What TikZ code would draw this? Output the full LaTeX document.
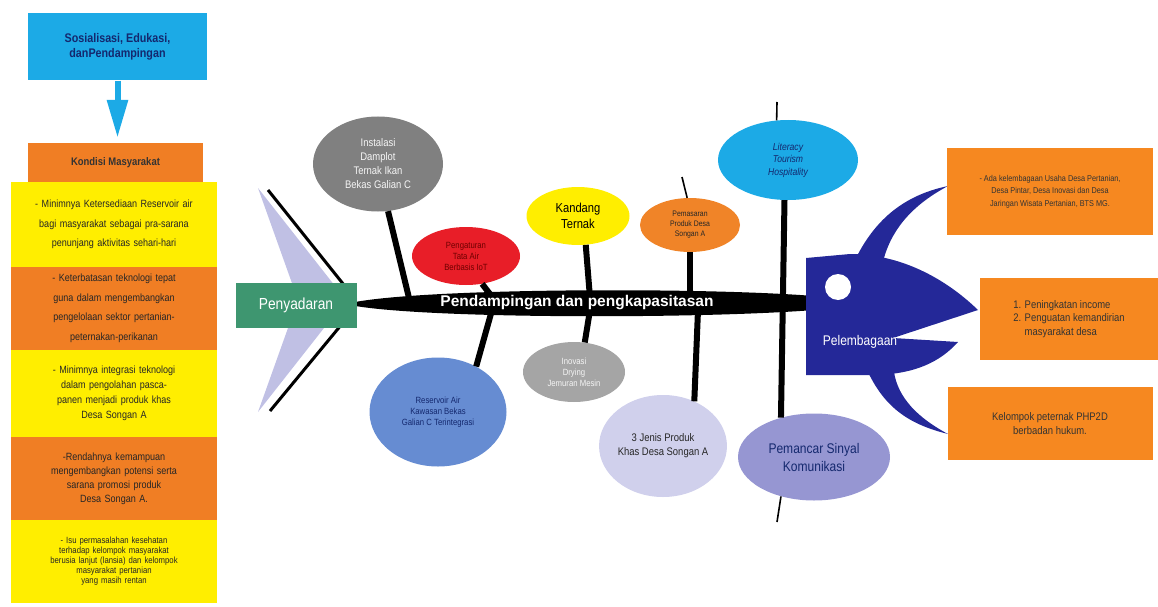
\documentclass[tikz,border=0pt]{standalone}
\usepackage{fontspec}
\setmainfont{Liberation Sans}
\newfontfamily\narrowsans[FakeStretch=0.86]{Liberation Sans}
\usetikzlibrary{shapes.geometric,arrows.meta}

\definecolor{skyblue}{RGB}{28,170,230}
\definecolor{boxorange}{RGB}{240,126,36}
\definecolor{rightorange}{RGB}{246,136,32}
\definecolor{boxyellow}{RGB}{255,238,0}
\definecolor{pgreen}{RGB}{62,150,112}
\definecolor{taillav}{RGB}{192,192,228}
\definecolor{fishblue}{RGB}{36,40,152}
\definecolor{navytext}{RGB}{20,40,110}
\definecolor{bgray}{RGB}{128,128,128}
\definecolor{lgray}{RGB}{165,165,165}
\definecolor{bred}{RGB}{232,30,40}
\definecolor{darkred}{RGB}{110,0,0}
\definecolor{borange}{RGB}{240,132,40}
\definecolor{resblue}{RGB}{102,140,210}
\definecolor{palelav}{RGB}{208,208,236}
\definecolor{midlav}{RGB}{150,150,210}

\begin{document}
\begin{tikzpicture}[x=1pt,y=-1pt,
  colbox/.style={rectangle, inner sep=0pt, minimum width=206pt, text width=198pt,
    align=center, text=black!85, font=\narrowsans\fontsize{10.5}{19.5}\selectfont},
  bubble/.style={ellipse, inner sep=0pt, align=center},
  bone/.style={line width=6pt, black},
  stick/.style={line width=1.6pt, black},
  tailline/.style={line width=3pt, black},
  sidebox/.style={rectangle, fill=rightorange, inner sep=0pt, text=black!80}
]
\useasboundingbox (0,0) rectangle (1158,607);

% ---------- left column: problems ----------
\node[rectangle, fill=skyblue, minimum width=179pt, minimum height=67pt, inner sep=0pt,
  align=center, text=navytext, font=\narrowsans\bfseries\fontsize{12.5}{15}\selectfont]
  (sos) at (117.5,47) {Sosialisasi, Edukasi,\\ danPendampingan};
\node[rectangle, fill=boxorange, minimum width=175pt, minimum height=39pt, inner sep=0pt,
  text=black!80, font=\narrowsans\bfseries\fontsize{11}{13}\selectfont]
  (kond) at (115.5,162.5) {Kondisi Masyarakat};
\draw[skyblue, line width=6pt, -{Triangle[width=20pt,length=38pt]}, shorten >=5pt]
  (sos.south) -- (sos.south |- kond.north);

\node[colbox, fill=boxyellow, minimum height=85pt] (c1) at (114,224.5)
  {- Minimnya Ketersediaan Reservoir air\\ bagi masyarakat sebagai pra-sarana\\ penunjang aktivitas sehari-hari};
\node[colbox, fill=boxorange, minimum height=83pt] (c2) at (114,308.5)
  {- Keterbatasan teknologi tepat\\ guna dalam mengembangkan\\ pengelolaan sektor pertanian-\\ peternakan-perikanan};
\node[colbox, fill=boxyellow, minimum height=87pt, font=\narrowsans\fontsize{10.5}{15}\selectfont] (c3) at (114,393.5)
  {- Minimnya integrasi teknologi\\ dalam pengolahan pasca-\\ panen menjadi produk khas\\ Desa Songan A};
\node[colbox, fill=boxorange, minimum height=83pt, font=\narrowsans\fontsize{10.5}{14}\selectfont] (c4) at (114,478.5)
  {-Rendahnya kemampuan\\ mengembangkan potensi serta\\ sarana promosi produk\\ Desa Songan A.};
\node[colbox, fill=boxyellow, minimum height=83pt, font=\narrowsans\fontsize{9}{10}\selectfont] (c5) at (114,561.5)
  {- Isu permasalahan kesehatan\\ terhadap kelompok masyarakat\\ berusia lanjut (lansia) dan kelompok\\ masyarakat pertanian\\ yang masih rentan};

% ---------- tail ----------
\fill[taillav] (258,188) -- (346,300) -- (258,412) -- (298,300) -- cycle;
\coordinate (tt) at (268,190);
\coordinate (tb) at (270,411);
\coordinate (sl) at (356,300);
\coordinate (sl2) at (356,307);
\draw[tailline] (tt) -- (sl);
\draw[tailline] (sl2) -- (tb);

% ---------- spine points ----------
\coordinate (s1) at (409,298);
\coordinate (s2) at (493,298);
\coordinate (s3) at (590,298);
\coordinate (s4) at (690,298);
\coordinate (u2) at (492,310);
\coordinate (u3) at (590,310);
\coordinate (u4) at (698,310);

% ---------- bubbles ----------
\node[bubble, fill=bgray, minimum width=130pt, minimum height=95pt, text=white!92!gray,
  font=\narrowsans\fontsize{11}{14}\selectfont] (inst) at (378,164)
  {Instalasi\\ Damplot\\ Ternak Ikan\\ Bekas Galian C};
\node[bubble, fill=bred, minimum width=108pt, minimum height=58pt, text=darkred,
  font=\narrowsans\fontsize{9}{11}\selectfont] (iot) at (466,256)
  {Pengaturan\\ Tata Air\\ Berbasis IoT};
\node[bubble, fill=boxyellow, minimum width=103pt, minimum height=58pt, text=black,
  font=\narrowsans\fontsize{13}{16}\selectfont] (kand) at (578,216)
  {Kandang\\ Ternak};
\node[bubble, fill=borange, minimum width=100pt, minimum height=54pt, text=black!85,
  font=\narrowsans\fontsize{8}{10}\selectfont] (pems) at (690,225)
  {Pemasaran\\ Produk Desa\\ Songan A};
\node[bubble, fill=skyblue, minimum width=140pt, minimum height=80pt, text=navytext,
  font=\narrowsans\itshape\fontsize{10}{12.5}\selectfont] (lit) at (788,160)
  {Literacy\\ Tourism\\ Hospitality};
\node[bubble, fill=resblue, minimum width=137pt, minimum height=109pt, text=navytext,
  font=\narrowsans\fontsize{9}{11}\selectfont] (res) at (438,412)
  {Reservoir Air\\ Kawasan Bekas\\ Galian C Terintegrasi};
\node[bubble, fill=lgray, minimum width=102pt, minimum height=60pt, text=white!92!gray,
  font=\narrowsans\fontsize{9}{11}\selectfont] (ino) at (574,372)
  {Inovasi\\ Drying\\ Jemuran Mesin};
\node[bubble, fill=palelav, minimum width=120pt, minimum height=102pt, text=black!85,
  font=\narrowsans\fontsize{11}{14}\selectfont] (jen) at (663,446)
  {3 Jenis Produk\\ Khas Desa Songan A};
\node[bubble, fill=midlav, minimum width=152pt, minimum height=87pt, text=navytext,
  font=\narrowsans\fontsize{14}{18}\selectfont] (pemc) at (814,457)
  {Pemancar Sinyal\\ Komunikasi};

% ---------- bones ----------
\draw[bone] (inst.-78) -- (s1);
\draw[bone] (iot.-60) -- (s2);
\draw[bone] (kand.-75) -- (s3);
\draw[bone] (pems.south) -- (s4);
\draw[bone] (u2) -- (res.50);
\draw[bone] (u3) -- (ino.70);
\draw[bone] (u4) -- (jen.55);
\draw[bone] (lit.-95) -- (pemc.130);
\coordinate (pst) at (682,177);
\coordinate (lst) at (777,102);
\coordinate (mst) at (777,522);
\draw[stick] (pems.96) -- (pst);
\draw[stick] (lit.106) -- (lst);
\draw[stick] (pemc.-130) -- (mst);

% ---------- spine ----------
\fill[black] (350,303) .. controls (420,288) and (700,287) .. (814,296)
  -- (814,310) .. controls (700,319) and (420,319) .. (350,305) -- cycle;
\node[text=white, font=\bfseries\fontsize{15.5}{17}\selectfont] (spt) at (577,303)
  {Pendampingan dan pengkapasitasan};

% ---------- Penyadaran ----------
\node[rectangle, fill=pgreen, minimum width=121pt, minimum height=45pt, inner sep=0pt,
  text=white, font=\narrowsans\fontsize{16}{18}\selectfont] (peny) at (296,305) {Penyadaran};

% ---------- fish head ----------
\fill[fishblue] (806,258) -- (850,254) .. controls (900,254) and (945,278) .. (978,310)
  -- (893,338) -- (958,342) .. controls (940,362) and (915,374) .. (875,375)
  -- (806,375) -- cycle;
\fill[fishblue] (856,258) .. controls (878,214) and (910,194) .. (948,186)
  .. controls (916,203) and (893,226) .. (884,258) -- cycle;
\fill[fishblue] (868,372) .. controls (886,410) and (912,425) .. (948,434)
  .. controls (918,418) and (898,398) .. (894,372) -- cycle;
\fill[white] (838,287) circle (13);
\node[text=white, font=\narrowsans\fontsize{14}{16}\selectfont] (pel) at (860,342) {Pelembagaan};

% ---------- outcomes ----------
\node[sidebox, minimum width=206pt, minimum height=87pt, align=center,
  font=\narrowsans\fontsize{8.5}{12.5}\selectfont] (outA) at (1050,191.5)
  {- Ada kelembagaan Usaha Desa Pertanian,\\ Desa Pintar, Desa Inovasi dan Desa\\ Jaringan Wisata Pertanian, BTS MG.};
\node[sidebox, minimum width=178pt, minimum height=82pt, align=left,
  font=\narrowsans\fontsize{11}{13.5}\selectfont] (outB) at (1069,319)
  {1. Peningkatan income\\ 2. Penguatan kemandirian\\ \phantom{2. }masyarakat desa};
\node[sidebox, minimum width=205pt, minimum height=73pt, align=center,
  font=\narrowsans\fontsize{11}{14}\selectfont] (outC) at (1050,423.5)
  {Kelompok peternak PHP2D\\ berbadan hukum.};
\end{tikzpicture}
\end{document}
